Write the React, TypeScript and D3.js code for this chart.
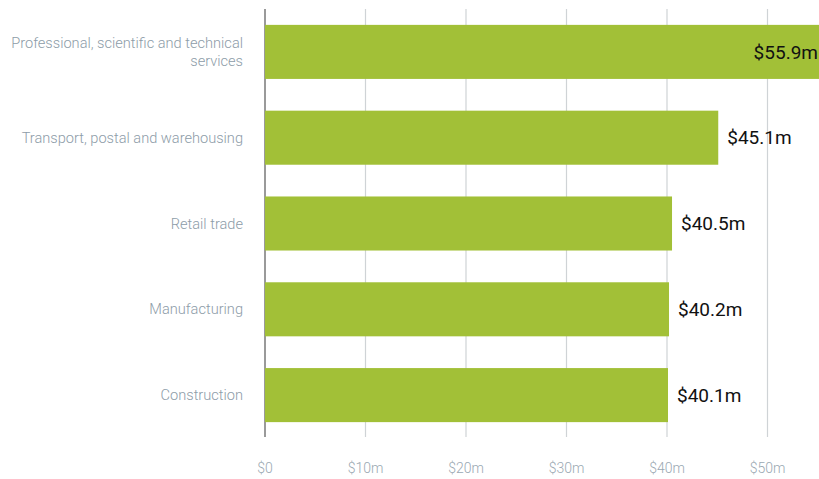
import React from "react";
import * as d3 from "d3";

const categories = [
  "Professional, scientific and technical services",
  "Transport, postal and warehousing",
  "Retail trade",
  "Manufacturing",
  "Construction",
];
const values = [55.9, 45.1, 40.5, 40.2, 40.1];
const ticks = [0, 10, 20, 30, 40, 50];
const labelLines: string[][] = [
  ["Professional, scientific and technical", "services"],
  ["Transport, postal and warehousing"],
  ["Retail trade"],
  ["Manufacturing"],
  ["Construction"],
];

const W = 819;
const H = 479;

export default function App() {
  const x = d3.scaleLinear().domain([0, 50]).range([265, 767.5]);
  const y = d3
    .scaleBand<string>()
    .domain(categories)
    .range([9, 438])
    .paddingInner(0.37)
    .paddingOuter(0.185);
  const fmt = (v: number) => (v === 0 ? "$0" : `$${v}m`);
  const [yTop, yBot] = y.range();
  return (
    <div style={{ position: "absolute", left: 0, top: 0 }}>
      <svg width={W} height={H} style={{ display: "block", fontFamily: "Roboto, sans-serif" }}>
        {ticks.map((t) => (
          <line
            key={t}
            x1={x(t)}
            x2={x(t)}
            y1={yTop}
            y2={yBot - 1}
            stroke={t === 0 ? "#9a9a9a" : "#cfd3d6"}
            strokeWidth={t === 0 ? 2 : 1.2}
          />
        ))}
        {categories.map((c, i) => {
          const v = values[i];
          const x1 = x(v);
          const y0 = y(c)!;
          const bw = y.bandwidth();
          const cy = y0 + bw / 2;
          const inside = x1 + 70 > W;
          return (
            <g key={c}>
              <rect x={x(0)} y={y0} width={x1 - x(0)} height={bw} fill="#a2c037" />
              <text
                x={inside ? W - 1 : x1 + 9}
                y={cy}
                dy="0.35em"
                textAnchor={inside ? "end" : "start"}
                fontSize={19}
                fill="#111"
              >
                {`$${v}m`}
              </text>
              <text
                x={243}
                y={cy - ((labelLines[i].length - 1) * 18.5) / 2}
                textAnchor="end"
                fontSize={14.6}
                fontWeight={300}
                fill="#8d9ca8"
              >
                {labelLines[i].map((l, j) => (
                  <tspan key={j} x={243} dy={j === 0 ? "0.35em" : 18.5}>
                    {l}
                  </tspan>
                ))}
              </text>
            </g>
          );
        })}
        {ticks.map((t) => (
          <text
            key={t}
            x={x(t)}
            y={473}
            textAnchor="middle"
            fontSize={14}
            fontWeight={300}
            fill="#9aa8b2"
          >
            {fmt(t)}
          </text>
        ))}
      </svg>
    </div>
  );
}
